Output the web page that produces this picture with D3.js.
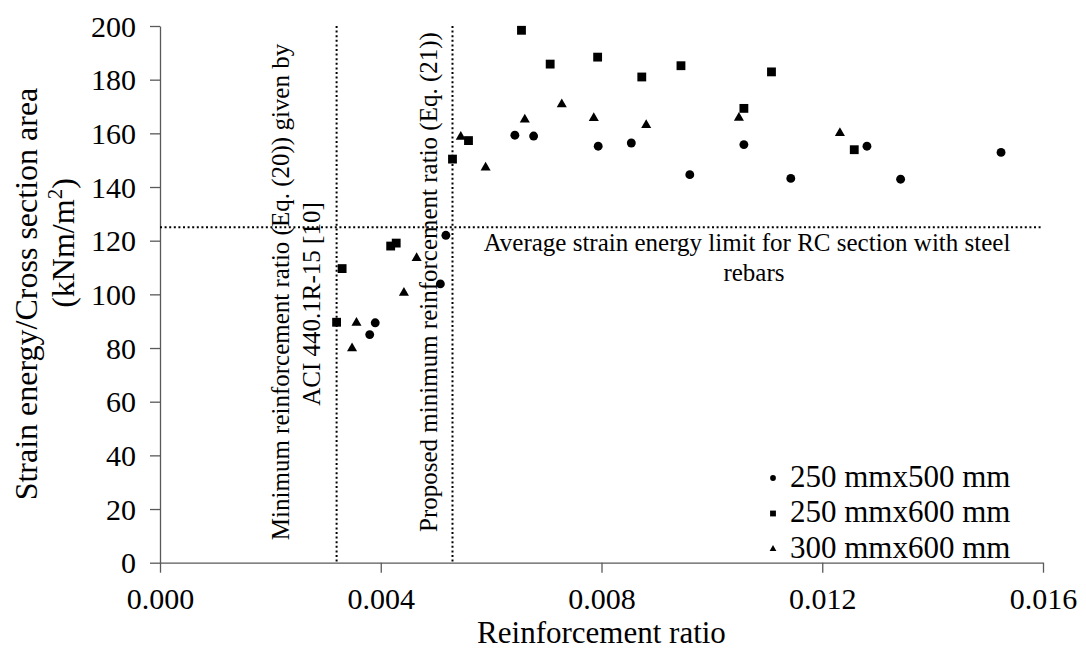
<!DOCTYPE html>
<html>
<head>
<meta charset="utf-8">
<script src="https://cdn.jsdelivr.net/npm/d3@7"></script>
<style>
    body { margin: 0; background: #fff; }
    text { font-family: "Liberation Serif", "Times New Roman", serif; fill: #000; }
</style>
</head>
<body>
<script>
// data
var xTicks = [0, 0.004, 0.008, 0.012, 0.016];
var yTicks = [0, 20, 40, 60, 80, 100, 120, 140, 160, 180, 200];

var seriesNames = ["250 mmx500 mm", "250 mmx600 mm", "300 mmx600 mm"];

var ratio250x500 = [0.00390, 0.00380, 0.00508, 0.00518, 0.00643, 0.00677, 0.00794, 0.00854, 0.00960, 0.01058, 0.01143, 0.01281, 0.01342, 0.01524];
var energy250x500 = [89.4, 85.0, 103.9, 122.0, 159.3, 159.0, 155.2, 156.4, 144.6, 155.8, 143.2, 155.2, 142.9, 152.9];

var ratio250x600 = [0.00320, 0.00330, 0.00418, 0.00428, 0.00530, 0.00559, 0.00655, 0.00707, 0.00793, 0.00873, 0.00944, 0.01058, 0.01108, 0.01258];
var energy250x600 = [89.6, 109.6, 118.0, 119.1, 150.4, 157.3, 198.4, 185.8, 188.4, 181.0, 185.2, 169.3, 182.9, 153.9];

var ratio300x600 = [0.00356, 0.00348, 0.00465, 0.00442, 0.00545, 0.00590, 0.00661, 0.00728, 0.00786, 0.00881, 0.01049, 0.01232];
var energy300x600 = [89.4, 79.9, 113.5, 100.6, 158.7, 147.2, 165.1, 170.8, 165.7, 163.1, 165.8, 160.1];

var minRatioAci = 0.0032;
var minRatioProposed = 0.0053;
var energyLimit = 125;

var margin = {top: 26, right: 43, bottom: 87.3, left: 160};
var fullWidth = 1086, fullHeight = 650;
var width = fullWidth - margin.left - margin.right;
var height = fullHeight - margin.top - margin.bottom;

var svg = d3.select("body").append("svg")
    .attr("width", fullWidth)
    .attr("height", fullHeight);

var g = svg.append("g")
    .attr("transform", "translate(" + margin.left + "," + margin.top + ")");

var x = d3.scaleLinear().domain([0, 0.016]).range([0, width]);
var y = d3.scaleLinear().domain([0, 200]).range([height, 0]);

var axisColor = "#595959";

var xAxis = g.append("g")
    .attr("transform", "translate(0," + height + ")")
    .call(d3.axisBottom(x).tickValues(xTicks).tickFormat(d3.format(".3f"))
        .tickSize(10).tickSizeOuter(0).tickPadding(12));
var yAxis = g.append("g")
    .call(d3.axisLeft(y).tickValues(yTicks).tickSize(10).tickSizeOuter(0).tickPadding(14));

[xAxis, yAxis].forEach((ax) => {
    ax.select(".domain").attr("stroke", axisColor).attr("stroke-width", 1.3);
    ax.selectAll(".tick line").attr("stroke", axisColor).attr("stroke-width", 1.3);
    ax.selectAll(".tick text")
        .attr("font-family", "Liberation Serif")
        .attr("font-size", "30px")
        .attr("fill", "#000");
});
xAxis.selectAll(".tick text").attr("dy", "0.8em");
yAxis.selectAll(".tick text").attr("dy", "0.34em");

// reference lines
var dots = "2,2.6";
g.append("line")
    .attr("x1", x(minRatioAci)).attr("x2", x(minRatioAci))
    .attr("y1", y(200)).attr("y2", y(0))
    .attr("stroke", "#000").attr("stroke-width", 2).attr("stroke-dasharray", dots);
g.append("line")
    .attr("x1", x(minRatioProposed)).attr("x2", x(minRatioProposed))
    .attr("y1", y(200)).attr("y2", y(0))
    .attr("stroke", "#000").attr("stroke-width", 2).attr("stroke-dasharray", dots);
g.append("line")
    .attr("x1", 0).attr("x2", width)
    .attr("y1", y(energyLimit)).attr("y2", y(energyLimit))
    .attr("stroke", "#000").attr("stroke-width", 2).attr("stroke-dasharray", dots);

// annotations
function vText(cx, cy, str) {
    g.append("text")
        .attr("transform", "translate(" + cx + "," + cy + ") rotate(-90)")
        .attr("text-anchor", "middle")
        .attr("font-size", "25px")
        .text(str);
}
vText(x(minRatioAci) - 48, 266, "Minimum reinforcement ratio (Eq. (20)) given by");
vText(x(minRatioAci) - 17, 278, "ACI 440.1R-15 [10]");
vText(x(minRatioProposed) - 15, 256, "Proposed minimum reinforcement ratio (Eq. (21))");

g.append("text")
    .attr("x", 587).attr("y", y(energyLimit) + 24)
    .attr("text-anchor", "middle")
    .attr("font-size", "25px")
    .text("Average strain energy limit for RC section with steel");
g.append("text")
    .attr("x", 594).attr("y", y(energyLimit) + 54)
    .attr("text-anchor", "middle")
    .attr("font-size", "25px")
    .text("rebars");

// axis titles
svg.append("text")
    .attr("x", margin.left + width / 2).attr("y", 643)
    .attr("text-anchor", "middle")
    .attr("font-size", "31px")
    .text("Reinforcement ratio");

svg.append("text")
    .attr("transform", "translate(37,294) rotate(-90)")
    .attr("text-anchor", "middle")
    .attr("font-size", "32px")
    .text("Strain energy/Cross section area");
var yt2 = svg.append("text")
    .attr("transform", "translate(74,243) rotate(-90)")
    .attr("text-anchor", "middle")
    .attr("font-size", "32px");
yt2.append("tspan").text("(kNm/m");
yt2.append("tspan").attr("font-size", "21px").attr("dy", "-12").text("2");
yt2.append("tspan").attr("dy", "12").text(")");

// points
var series = [
    {name: seriesNames[0], xs: ratio250x500, ys: energy250x500, shape: d3.symbolCircle, size: 62, legendSize: 26},
    {name: seriesNames[1], xs: ratio250x600, ys: energy250x600, shape: d3.symbolSquare, size: 78, legendSize: 34},
    {name: seriesNames[2], xs: ratio300x600, ys: energy300x600, shape: d3.symbolTriangle, size: 44, legendSize: 20}
];

series.forEach((s) => {
    var pts = s.xs.map((v, i) => ({rx: v, e: s.ys[i]}));
    g.selectAll(null).data(pts).enter().append("path")
        .attr("d", d3.symbol().type(s.shape).size(s.size))
        .attr("transform", (d) => "translate(" + x(d.rx) + "," + y(d.e) + ")")
        .attr("fill", "#000");
});

// legend
var legend = svg.append("g").attr("transform", "translate(773,478)");
series.forEach((s, i) => {
    var row = legend.append("g").attr("transform", "translate(0," + (i * 35.5) + ")");
    row.append("path")
        .attr("d", d3.symbol().type(s.shape).size(s.legendSize))
        .attr("fill", "#000");
    row.append("text")
        .attr("x", 17).attr("y", 8.5)
        .attr("font-size", "31px")
        .text(s.name);
});
</script>
</body>
</html>
